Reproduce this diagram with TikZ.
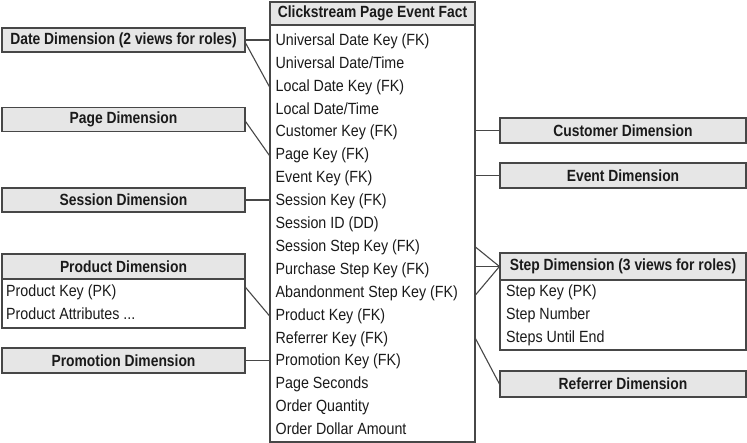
\documentclass[tikz,border=0pt]{standalone}
\usepackage{fontspec}
\setmainfont{Liberation Sans}[FakeStretch=0.88]
\newfontfamily\hdrfont{Liberation Sans}[FakeStretch=0.855]
\definecolor{linec}{HTML}{474747}
\definecolor{hdrfill}{HTML}{E6E6E6}
\definecolor{txt}{HTML}{1A1A1A}
\tikzset{
  hdr/.style={draw=linec, fill=hdrfill, line width=1.1pt, inner sep=0pt, text=txt,
    font=\hdrfont\bfseries\fontsize{16.2}{19}\selectfont},
  bodybox/.style={draw=linec, fill=white, line width=1.1pt, inner sep=0pt},
  rowtxt/.style={anchor=west, inner sep=0pt, text=txt, text height=11.7pt, text depth=3pt,
    font=\fontsize{16.2}{19}\selectfont},
  conn/.style={draw=linec, line width=1.1pt},
}
\begin{document}
\begin{tikzpicture}[x=1pt, y=-1pt]
\useasboundingbox (0,0) rectangle (747,443);
% fact table
\node[bodybox, minimum width=205pt, minimum height=417pt] (factbody) at (372.5,233.5) {};
\node[hdr, minimum width=205pt, minimum height=23pt] (facthdr) at (372.5,13.5) {Clickstream Page Event Fact};
\foreach \n/\t [count=\i from 0] in {ukey/{Universal Date Key (FK)}, udt/{Universal Date/Time}, lkey/{Local Date Key (FK)}, ldt/{Local Date/Time}, ckey/{Customer Key (FK)}, pgkey/{Page Key (FK)}, evkey/{Event Key (FK)}, skey/{Session Key (FK)}, sid/{Session ID (DD)}, sskey/{Session Step Key (FK)}, pskey/{Purchase Step Key (FK)}, askey/{Abandonment Step Key (FK)}, prkey/{Product Key (FK)}, rfkey/{Referrer Key (FK)}, pmkey/{Promotion Key (FK)}, pgsec/{Page Seconds}, oqty/{Order Quantity}, oamt/{Order Dollar Amount}}
  \node[rowtxt] (\n) at (275.5, 41+22.9*\i) {\t};
% left dimensions
\node[hdr, minimum width=243pt, minimum height=24pt] (date) at (123.5,40) {Date Dimension (2 views for roles)};
\node[hdr, minimum width=243pt, minimum height=24.5pt] (page) at (123.5,119.5) {Page Dimension};
\node[hdr, minimum width=243pt, minimum height=24pt] (session) at (123.5,200) {Session Dimension};
\node[bodybox, minimum width=243pt, minimum height=49pt] (prodbody) at (123.5,303.5) {};
\node[hdr, minimum width=243pt, minimum height=25pt] (prodhdr) at (123.5,266.5) {Product Dimension};
\node[rowtxt] (prodpk) at (6,292) {Product Key (PK)};
\node[rowtxt] (prodattr) at (6,315) {Product Attributes ...};
\node[hdr, minimum width=243pt, minimum height=25pt] (promo) at (123.5,360.5) {Promotion Dimension};
% right dimensions
\node[hdr, minimum width=246pt, minimum height=25pt] (cust) at (623,130.5) {Customer Dimension};
\node[hdr, minimum width=246pt, minimum height=25pt] (event) at (623,175.5) {Event Dimension};
\node[bodybox, minimum width=246pt, minimum height=70pt] (stepbody) at (623,315) {};
\node[hdr, minimum width=246pt, minimum height=27pt] (stephdr) at (623,266.5) {Step Dimension (3 views for roles)};
\node[rowtxt] (steppk) at (506,292) {Step Key (PK)};
\node[rowtxt] (stepnum) at (506,315) {Step Number};
\node[rowtxt] (stepend) at (506,338) {Steps Until End};
\node[hdr, minimum width=246pt, minimum height=26pt] (refer) at (623,384) {Referrer Dimension};
% connectors
\draw[conn] (date.east) -- (date.east -| factbody.west);
\draw[conn] ([yshift=-3pt]date.east) -- (factbody.west |- lkey.west);
\draw[conn] ([yshift=-2pt]page.east) -- (factbody.west |- pgkey.west);
\draw[conn] (session.east) -- (session.east -| factbody.west);
\draw[conn] ([yshift=-9pt]prodbody.north east) -- (factbody.west |- prkey.west);
\draw[conn] (promo.east) -- (promo.east -| factbody.west);
\draw[conn] (cust.west) -- (cust.west -| factbody.east);
\draw[conn] (event.west) -- (event.west -| factbody.east);
\draw[conn] (factbody.east |- sskey.west) -- (stephdr.west);
\draw[conn] (stephdr.west -| factbody.east) -- (stephdr.west);
\draw[conn] ([yshift=-2pt]factbody.east |- askey.west) -- (stephdr.west);
\draw[conn] (factbody.east |- rfkey.west) -- (refer.west);
\end{tikzpicture}
\end{document}
